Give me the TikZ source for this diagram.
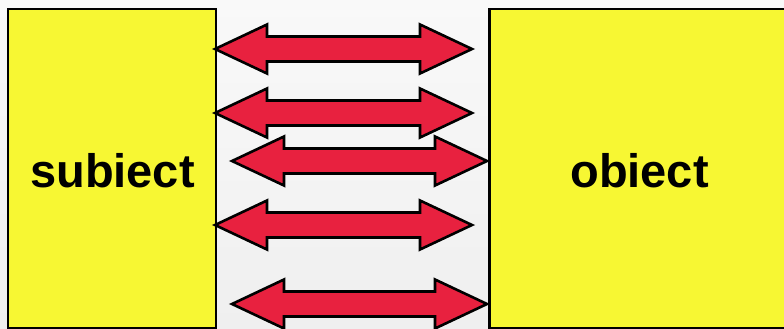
\documentclass[tikz,border=0pt]{standalone}
\usepackage{fontspec}
\setmainfont{Liberation Sans}
\definecolor{boxyellow}{HTML}{F7F733}
\definecolor{arrred}{HTML}{E8213F}
\definecolor{bgtop}{HTML}{F9F9F9}
\definecolor{bgbot}{HTML}{EFEFEF}
\tikzset{
  boxstyle/.style={draw=black, line width=2.6pt, fill=boxyellow, rectangle, inner sep=0pt},
  lbl/.style={font=\fontsize{47}{50}\selectfont\bfseries, text=black, inner sep=0pt, anchor=base},
  arrstyle/.style={draw=black, line width=2.6pt, fill=arrred, line join=miter},
  pics/dblarrow/.style args={#1/#2}{code={
    % #1 = total length, #2 unused
    \path[arrstyle] (0,0) -- (52,-24.5) -- (52,-12.5) -- (#1-52,-12.5) -- (#1-52,-24.5)
      -- (#1,0) -- (#1-52,24.5) -- (#1-52,12.5) -- (52,12.5) -- (52,24.5) -- cycle;
  }}
}
\begin{document}
\begin{tikzpicture}[x=1pt,y=-1pt]
\useasboundingbox (0,0) rectangle (784,329);
\clip (0,0) rectangle (784,329);
\shade[top color=bgtop, bottom color=bgbot] (0,0) rectangle (784,329);
\node[boxstyle, minimum width=208pt, minimum height=319pt] (subj) at (112,168.5) {};
\node[boxstyle, minimum width=320pt, minimum height=319pt, anchor=west] (obj) at (488,168.5) {};
\node[lbl] (subjtext) at (112.5,187) {subiect};
\node[lbl] (objtext) at (639.5,187) {obiect};
\pic at (215,49) {dblarrow=257/0};
\pic at (215,113) {dblarrow=257/0};
\pic at (232,161) {dblarrow=255/0};
\pic at (215,225) {dblarrow=257/0};
\pic at (232,304) {dblarrow=255/0};
\end{tikzpicture}
\end{document}
